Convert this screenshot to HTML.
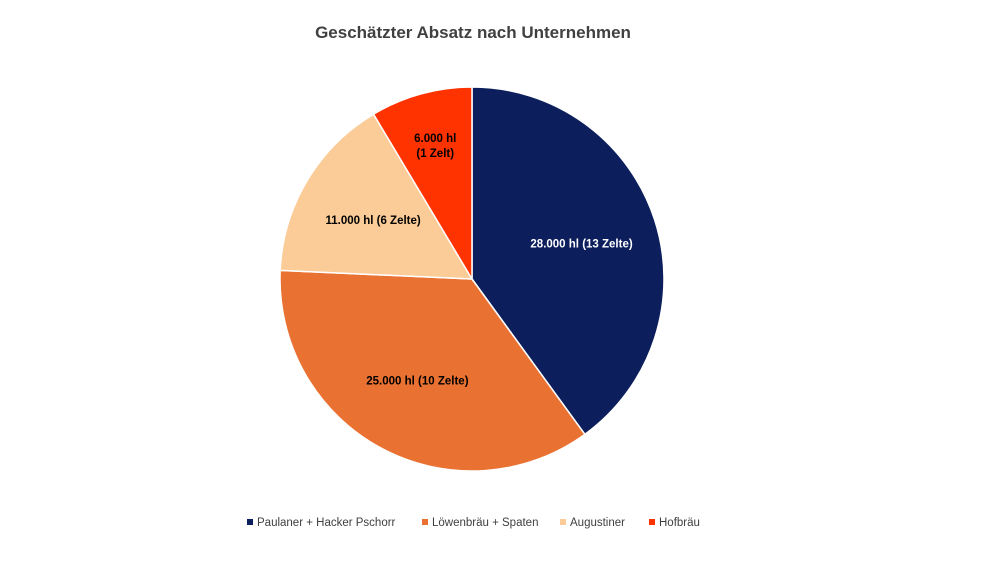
<!DOCTYPE html>
<html><head><meta charset="utf-8"><style>
body{margin:0;background:#fff;font-family:"Liberation Sans",sans-serif;}
svg{display:block}
</style></head><body>
<svg id="chart" width="1000" height="563" viewBox="0 0 1000 563">
<text x="473" y="38" text-anchor="middle" font-size="17" font-weight="bold" fill="#404040">Geschätzter Absatz nach Unternehmen</text>
<g id="slices"></g><g id="labels"></g><g id="legend"></g>
</svg>
<script>
const categories=["Paulaner + Hacker Pschorr","Löwenbräu + Spaten","Augustiner","Hofbräu"];
const values=[28000,25000,11000,6000];
const labelLines=[["28.000 hl (13 Zelte)"],["25.000 hl (10 Zelte)"],["11.000 hl (6 Zelte)"],["6.000 hl","(1 Zelt)"]];
const colors=["#0c1f5c","#e97132","#fbcb98","#ff3300"];
const textColors=["#fff","#000","#000","#000"];
const NS="http://www.w3.org/2000/svg";
const cx=472,cy=279,R=192;
const total=values.reduce((a,b)=>a+b,0);
const sl=document.getElementById('slices'),lb=document.getElementById('labels'),lg=document.getElementById('legend');
function pt(a,r){return [cx+r*Math.sin(a),cy-r*Math.cos(a)];}
let acc=0;
values.forEach((v,i)=>{
  const a0=acc/total*2*Math.PI; acc+=v; const a1=acc/total*2*Math.PI;
  const p0=pt(a0,R),p1=pt(a1,R),large=(a1-a0)>Math.PI?1:0;
  const p=document.createElementNS(NS,'path');
  p.setAttribute('d',`M${cx},${cy}L${p0[0]},${p0[1]}A${R},${R} 0 ${large} 1 ${p1[0]},${p1[1]}Z`);
  p.setAttribute('fill',colors[i]);p.setAttribute('stroke','#fff');p.setAttribute('stroke-width','1.5');
  
  
  sl.appendChild(p);
  const am=(a0+a1)/2;const lp=pt(am,R*(v/total<0.12?0.72:0.6));
  const t=document.createElementNS(NS,'text');
  t.setAttribute('x',lp[0]);t.setAttribute('text-anchor','middle');t.setAttribute('font-size','11.5');t.setAttribute('font-weight','bold');t.setAttribute('fill',textColors[i]);
  
  
  const lines=labelLines[i];
  lines.forEach((s,j)=>{const ts=document.createElementNS(NS,'tspan');ts.setAttribute('x',lp[0]);ts.setAttribute('y',lp[1]+4+(j-(lines.length-1)/2)*15);ts.textContent=s;t.appendChild(ts);});
  lb.appendChild(t);
});
const legX=[247,422,560,649];
categories.forEach((c,i)=>{
  const g=document.createElementNS(NS,'g');
  
  
  const r=document.createElementNS(NS,'rect');r.setAttribute('x',legX[i]);r.setAttribute('y',519);r.setAttribute('width',6);r.setAttribute('height',6);r.setAttribute('fill',colors[i]);g.appendChild(r);
  const t=document.createElementNS(NS,'text');t.setAttribute('x',legX[i]+10);t.setAttribute('y',526);t.setAttribute('font-size','11.5');t.setAttribute('fill','#404040');t.textContent=c;g.appendChild(t);
  lg.appendChild(g);
});
</script>
</body></html>
